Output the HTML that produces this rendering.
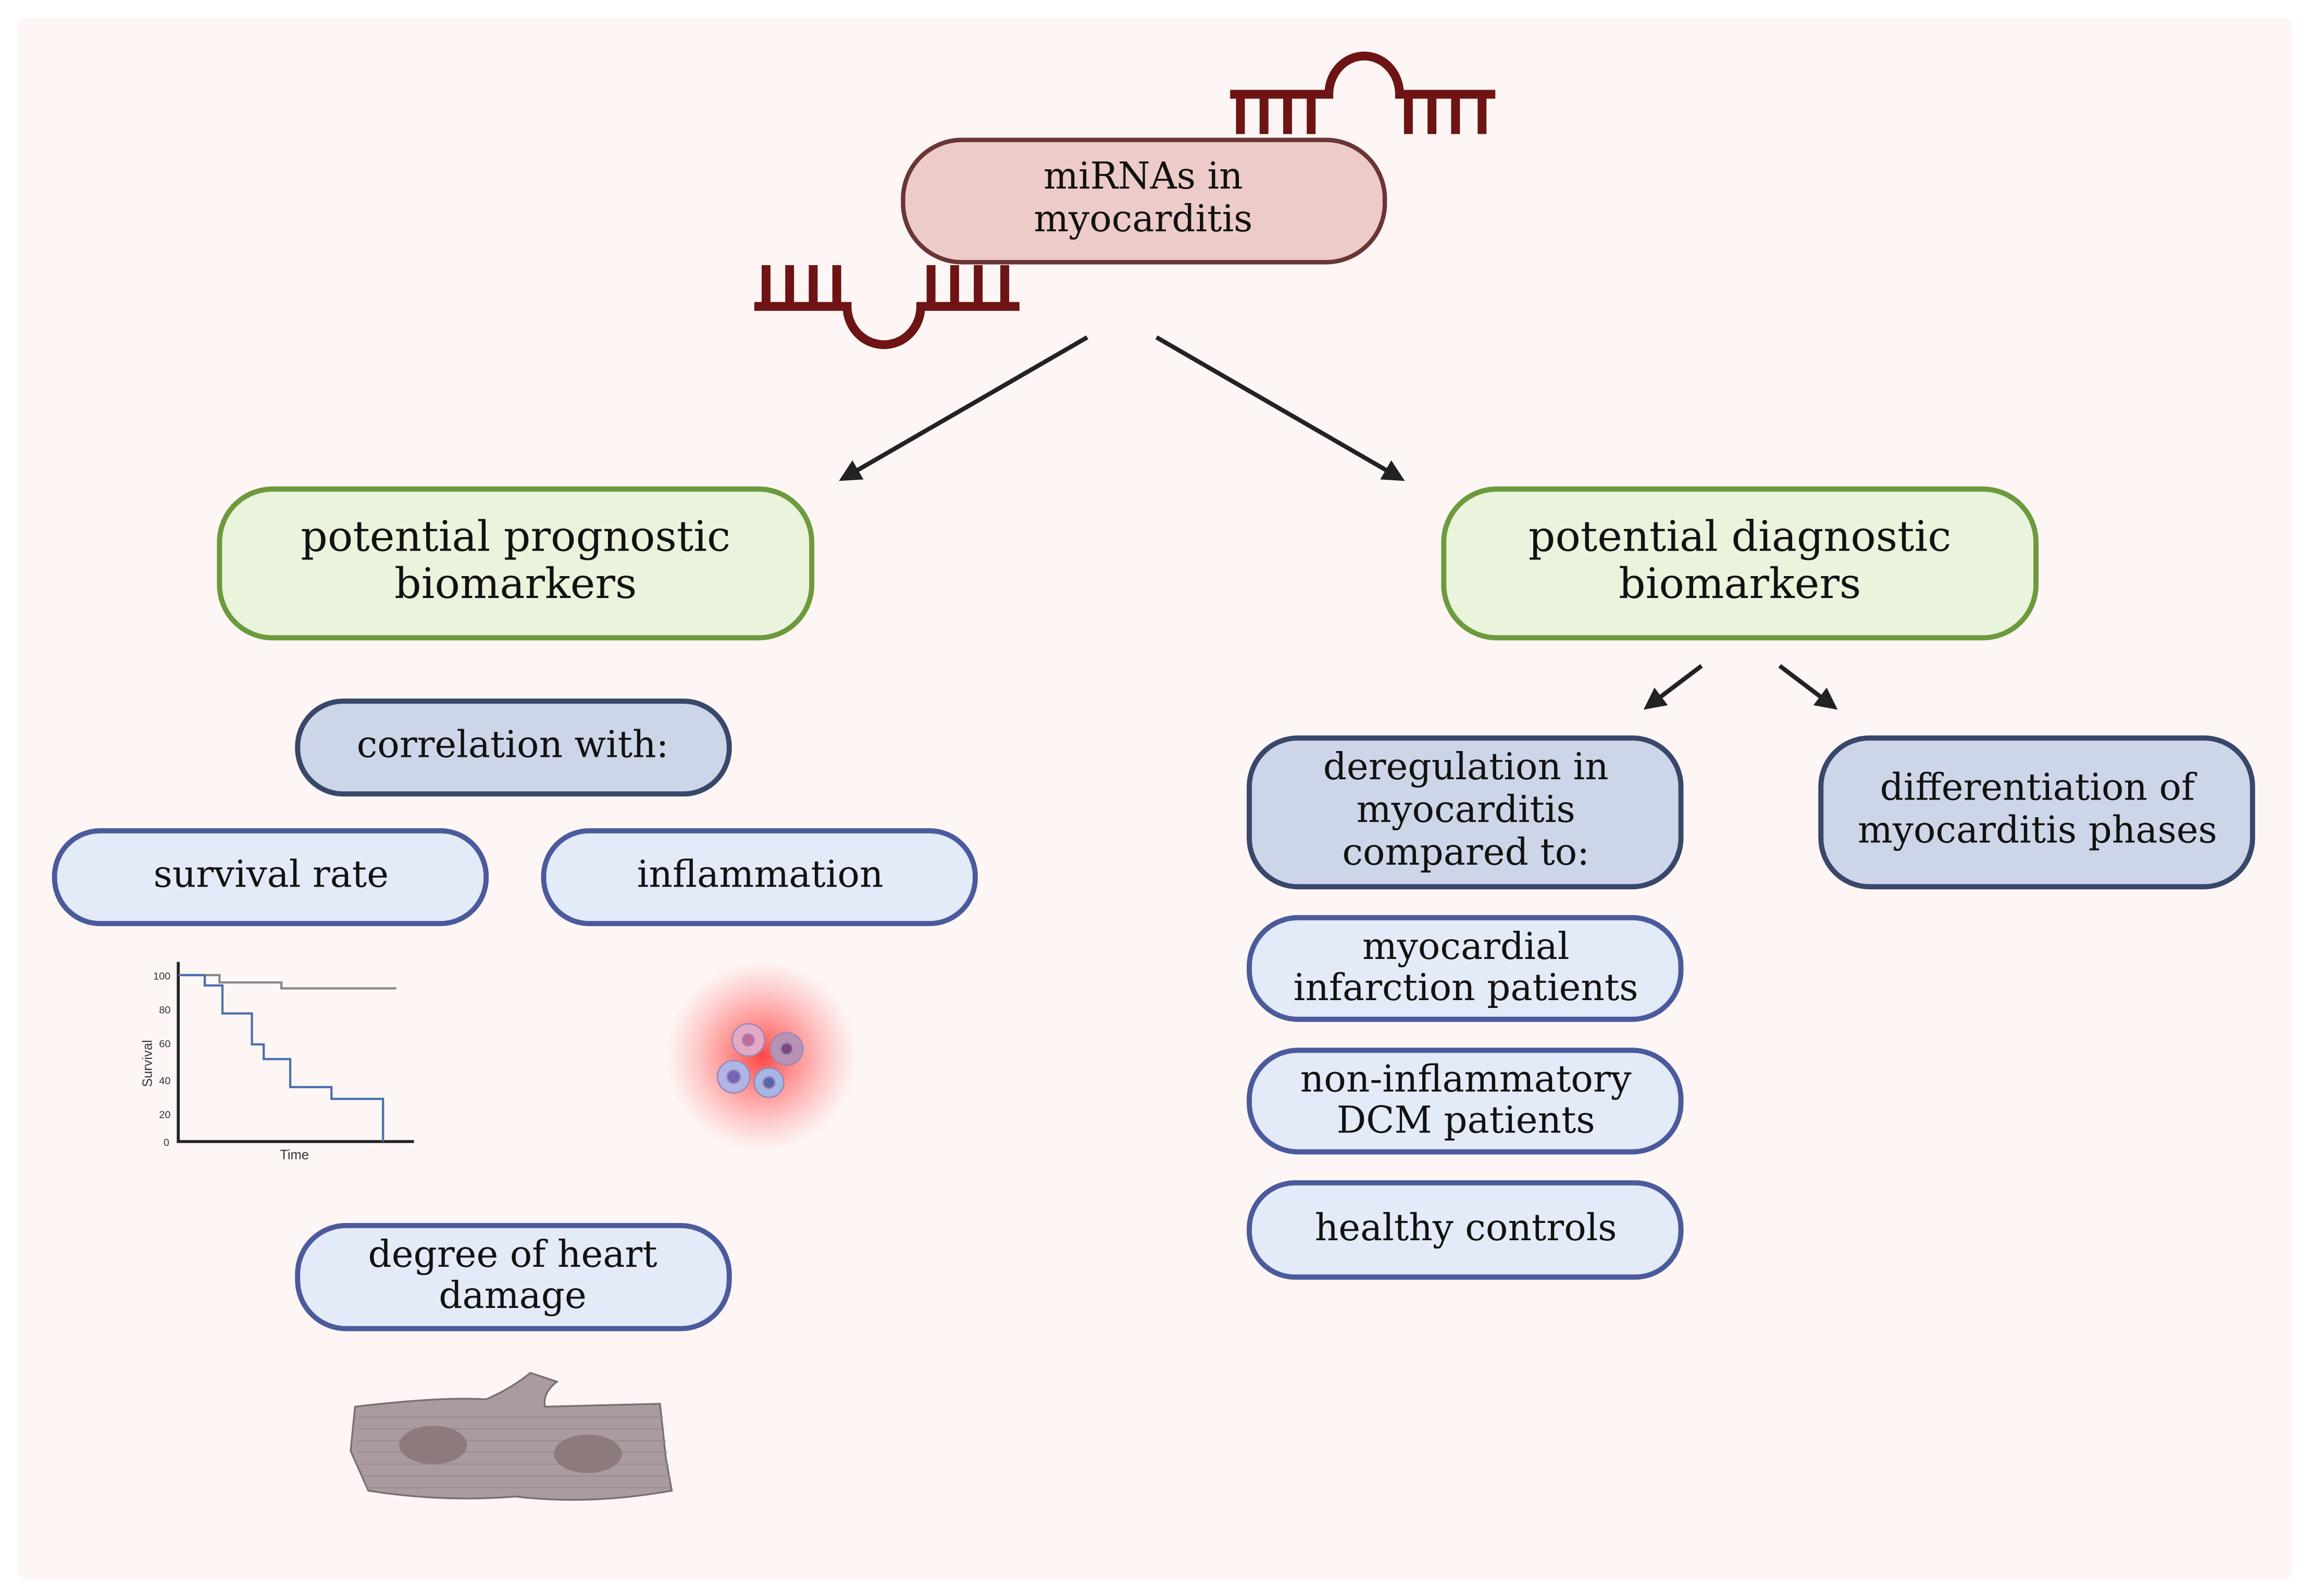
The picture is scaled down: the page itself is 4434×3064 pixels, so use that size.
<!DOCTYPE html>
<html><head><meta charset="utf-8"><style>html,body{margin:0;padding:0;background:#fff}svg{display:block}</style></head><body>
<svg width="4434" height="3064" viewBox="0 0 1568 1083.5" xmlns="http://www.w3.org/2000/svg" font-family="'DejaVu Serif', 'Liberation Serif', serif">
<defs>
<radialGradient id="glow"><stop offset="0" stop-color="#ff3030" stop-opacity="0.9"/><stop offset="0.5" stop-color="#ff6060" stop-opacity="0.5"/><stop offset="1" stop-color="#ff8080" stop-opacity="0"/></radialGradient>
<marker id="ah" viewBox="0 0 10 10" refX="8" refY="5" markerWidth="5" markerHeight="5" orient="auto"><path d="M0,0 L10,5 L0,10 z" fill="#222"/></marker>
</defs>
<rect x="0" y="0" width="1568" height="1083.5" fill="#fff"/>
<rect x="12" y="12" width="1544" height="1060" rx="6" fill="#fdf6f5"/>

<g stroke="#6e1414" stroke-width="6" fill="none">
<path d="M835,64 H902 A24,26 0 0 1 950,64 H1015"/>
<path d="M842,64 V91 M858,64 V91 M874,64 V91 M890,64 V91 M956,64 V91 M972,64 V91 M988,64 V91 M1006,64 V91"/>
<path d="M512,208 H575 A25,26 0 0 0 625,208 H692"/>
<path d="M520,208 V180 M536,208 V180 M552,208 V180 M568,208 V180 M632,208 V180 M648,208 V180 M664,208 V180 M682,208 V180"/>
</g>

<rect x="613" y="95" width="327" height="83" rx="40" fill="#edcbc8" stroke="#6b3535" stroke-width="3"/>
<text x="776" y="128" font-size="25" text-anchor="middle" fill="#111">miRNAs in</text>
<text x="776" y="157" font-size="25" text-anchor="middle" fill="#111">myocarditis</text>

<g stroke="#222" stroke-width="3" marker-end="url(#ah)">
<line x1="738" y1="229" x2="572" y2="325"/>
<line x1="785" y1="229" x2="951" y2="325"/>
<line x1="1155" y1="452" x2="1118" y2="480"/>
<line x1="1208" y1="452" x2="1245" y2="480"/>
</g>

<rect x="149" y="332" width="402" height="101" rx="36" fill="#eaf3dc" stroke="#6c9a3c" stroke-width="3.5"/>
<text x="350" y="374" font-size="28.5" text-anchor="middle" fill="#111">potential prognostic</text>
<text x="350" y="406" font-size="28.5" text-anchor="middle" fill="#111">biomarkers</text>
<rect x="980" y="332" width="402" height="101" rx="36" fill="#eaf3dc" stroke="#6c9a3c" stroke-width="3.5"/>
<text x="1181" y="374" font-size="28.5" text-anchor="middle" fill="#111">potential diagnostic</text>
<text x="1181" y="406" font-size="28.5" text-anchor="middle" fill="#111">biomarkers</text>

<rect x="202" y="476" width="293" height="63" rx="31" fill="#cdd5e8" stroke="#38476a" stroke-width="3.5"/>
<text x="348" y="514" font-size="25" text-anchor="middle" fill="#111">correlation with:</text>
<rect x="37" y="564" width="293" height="63" rx="31" fill="#e3eaf8" stroke="#4b5a9c" stroke-width="3.5"/>
<text x="184" y="602" font-size="25" text-anchor="middle" fill="#111">survival rate</text>
<rect x="369" y="564" width="293" height="63" rx="31" fill="#e3eaf8" stroke="#4b5a9c" stroke-width="3.5"/>
<text x="516" y="602" font-size="25" text-anchor="middle" fill="#111">inflammation</text>
<rect x="202" y="832" width="293" height="70" rx="33" fill="#e3eaf8" stroke="#4b5a9c" stroke-width="3.5"/>
<text x="348" y="860" font-size="25" text-anchor="middle" fill="#111">degree of heart</text>
<text x="348" y="888" font-size="25" text-anchor="middle" fill="#111">damage</text>

<rect x="848" y="501" width="293" height="101" rx="33" fill="#cdd5e8" stroke="#38476a" stroke-width="3.5"/>
<text x="995" y="529" font-size="25" text-anchor="middle" fill="#111">deregulation in</text>
<text x="995" y="558" font-size="25" text-anchor="middle" fill="#111">myocarditis</text>
<text x="995" y="587" font-size="25" text-anchor="middle" fill="#111">compared to:</text>
<rect x="1236" y="501" width="293" height="101" rx="33" fill="#cdd5e8" stroke="#38476a" stroke-width="3.5"/>
<text x="1383" y="543" font-size="25" text-anchor="middle" fill="#111">differentiation of</text>
<text x="1383" y="572" font-size="25" text-anchor="middle" fill="#111">myocarditis phases</text>
<rect x="848" y="623" width="293" height="69" rx="33" fill="#e3eaf8" stroke="#4b5a9c" stroke-width="3.5"/>
<text x="995" y="651" font-size="25" text-anchor="middle" fill="#111">myocardial</text>
<text x="995" y="679" font-size="25" text-anchor="middle" fill="#111">infarction patients</text>
<rect x="848" y="713" width="293" height="69" rx="33" fill="#e3eaf8" stroke="#4b5a9c" stroke-width="3.5"/>
<text x="995" y="741" font-size="25" text-anchor="middle" fill="#111">non-inflammatory</text>
<text x="995" y="769" font-size="25" text-anchor="middle" fill="#111">DCM patients</text>
<rect x="848" y="803" width="293" height="64" rx="31" fill="#e3eaf8" stroke="#4b5a9c" stroke-width="3.5"/>
<text x="995" y="842" font-size="25" text-anchor="middle" fill="#111">healthy controls</text>

<g font-family="'Liberation Sans', sans-serif" font-size="7" fill="#333">
<path d="M121,653 V775 H281" stroke="#222" stroke-width="2" fill="none"/>
<path d="M121,662 H149 V667 H191 V671 H269" stroke="#888" stroke-width="1.5" fill="none"/>
<path d="M121,662 H139 V669 H151 V688 H171 V709 H179 V719 H197 V738 H225 V746 H260 V775" stroke="#4b6fb0" stroke-width="1.5" fill="none"/>
<text x="104" y="665">100</text><text x="108" y="688">80</text><text x="108" y="711">60</text><text x="108" y="736">40</text><text x="108" y="759">20</text><text x="111" y="778">0</text>
<text x="190" y="787" font-size="9">Time</text>
<text transform="translate(103,738) rotate(-90)" font-size="9">Survival</text>
</g>

<circle cx="517" cy="717" r="65" fill="url(#glow)"/>
<g stroke="#9a8ab8" stroke-width="1">
<circle cx="508" cy="706" r="11" fill="#e5a8c4"/><circle cx="534" cy="712" r="11" fill="#b892b4"/>
<circle cx="498" cy="731" r="11" fill="#b0b4e6"/><circle cx="522" cy="735" r="10" fill="#a8b6e4"/>
<circle cx="508" cy="706" r="4" fill="#c56a98"/><circle cx="534" cy="712" r="4" fill="#7c4a7c"/>
<circle cx="498" cy="731" r="4.5" fill="#7464b4"/><circle cx="522" cy="735" r="4" fill="#5a64a8"/>
</g>

<path d="M241,955 Q300,948 330,950 Q348,942 360,932 L378,938 Q368,946 370,955 L448,953 L452,990 L456,1012 Q400,1022 350,1016 Q300,1020 250,1012 L238,985 Z" fill="#aa9c9e" stroke="#7c6e70" stroke-width="1.2"/>
<g stroke="#9a8c8e" stroke-width="0.8">
<line x1="244" y1="962" x2="450" y2="962"/><line x1="243" y1="970" x2="451" y2="970"/><line x1="242" y1="978" x2="452" y2="978"/><line x1="242" y1="986" x2="453" y2="986"/><line x1="244" y1="994" x2="454" y2="994"/><line x1="246" y1="1002" x2="455" y2="1002"/><line x1="249" y1="1010" x2="455" y2="1010"/>
</g>
<ellipse cx="294" cy="981" rx="23" ry="13" fill="#8c7a7c"/>
<ellipse cx="399" cy="987" rx="23" ry="13" fill="#8c7a7c"/>
</svg>
</body></html>
